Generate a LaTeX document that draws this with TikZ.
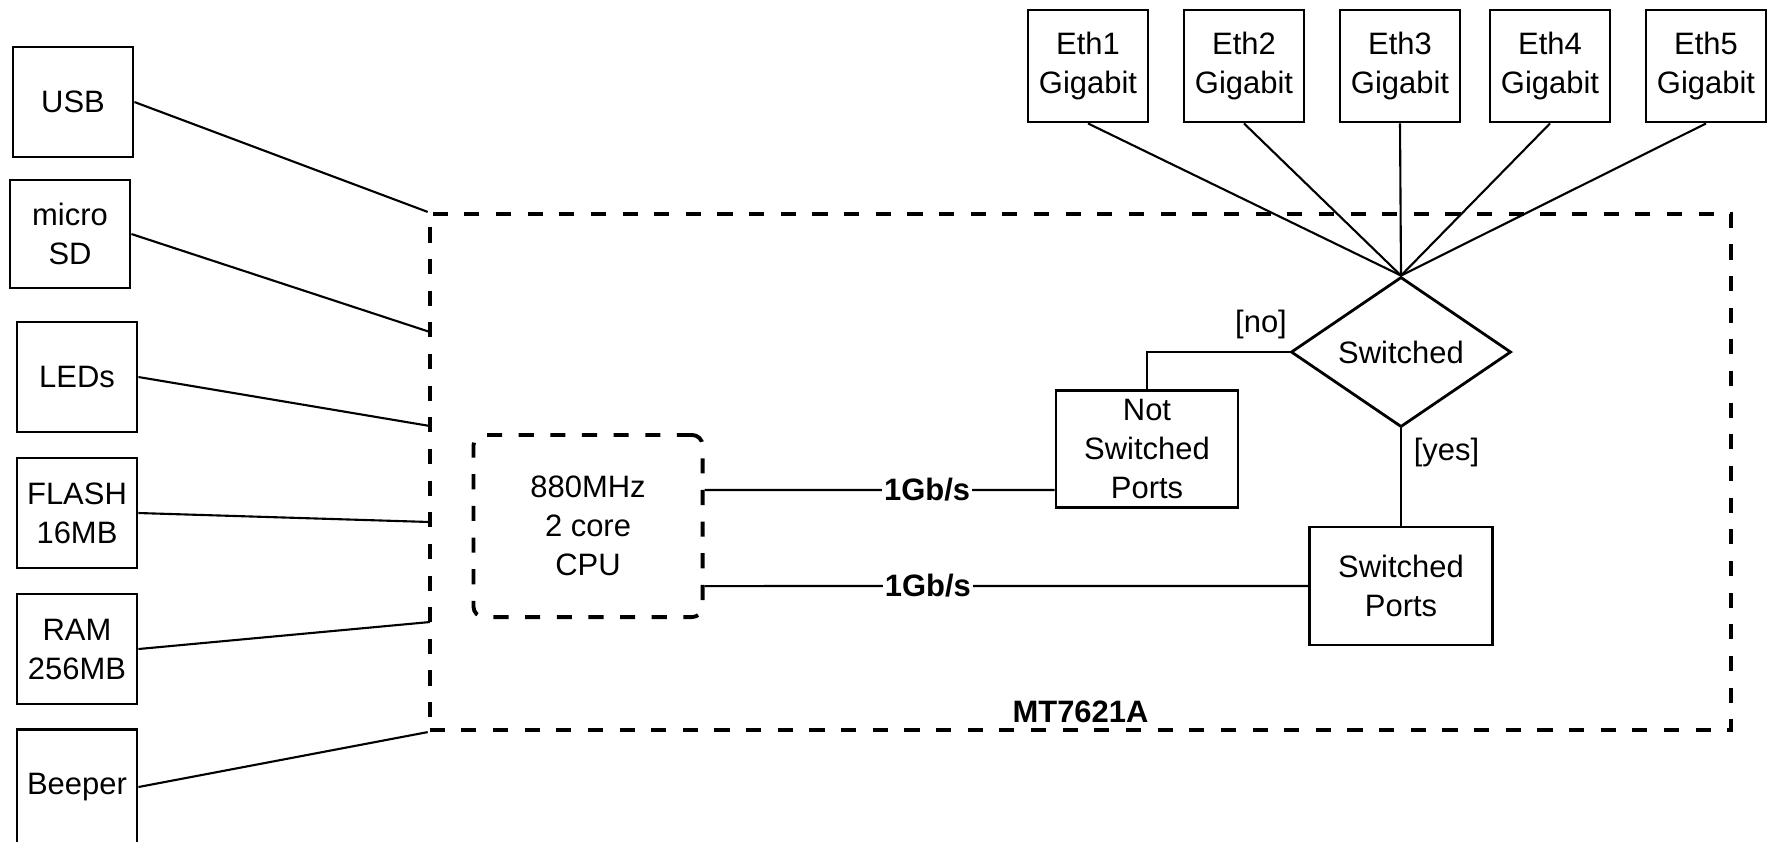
\documentclass[tikz,border=0pt]{standalone}
\usepackage{fontspec}
\setmainfont{Liberation Sans}
\usetikzlibrary{shapes.geometric}
\usetikzlibrary{positioning}

\begin{document}
\begin{tikzpicture}[x=0.01cm,y=-0.01cm,line width=0.6pt,
      font=\fontsize{8.8}{11.1}\selectfont,
      box/.style={draw,line width=0.8pt,align=center,minimum width=1.2cm,minimum height=1.1cm,inner sep=0pt},
      port/.style={box,minimum height=1.12cm},
      dashbox/.style={draw,line width=1.1pt,dash pattern=on 4.3pt off 4.7pt},
      rate/.style={font=\fontsize{8.8}{11.1}\selectfont\bfseries,fill=white,inner sep=0.5pt},
      decision/.style={diamond,draw,line width=0.8pt,aspect=1.5,minimum width=2.2cm,minimum height=1.5cm,inner sep=0pt}]
      \useasboundingbox (0,0) rectangle (1770,841);
      % chip outline
      \node[dashbox,minimum width=13.01cm,minimum height=5.16cm] (mt) at (1080.5,472) {};
      \node[font=\fontsize{8.8}{11.1}\selectfont\bfseries,inner sep=1pt,above=0.5mm of mt.south] (mtname) {MT7621A};
      % peripherals
      \node[box]                       (usb)   at (73,102)  {USB};
      \node[box,minimum height=1.08cm] (sd)    at (70,234)  {micro\\SD};
      \node[box]                       (led)   at (77,377)  {LEDs};
      \node[box]                       (flash) at (77,513)  {FLASH\\16MB};
      \node[box]                       (ram)   at (77,649)  {RAM\\256MB};
      \node[box,minimum height=1.15cm] (beep)  at (77,787)  {Beeper};
      \coordinate (sdpin)    at (430,332);
      \coordinate (ledpin)   at (430,426);
      \coordinate (flashpin) at (430,522);
      \coordinate (rampin)   at (430,622);
      \draw (usb.east) -- (mt.north west);
      \draw (sd.east) -- (sdpin);
      \draw (led.east) -- (ledpin);
      \draw (flash.east) -- (flashpin);
      \draw (ram.east) -- (rampin);
      \draw (beep.east) -- (mt.south west);
      % cpu and ports
      \node[dashbox,rounded corners=3pt,align=center,minimum width=2.29cm,minimum height=1.82cm] (cpu) at (588,526) {880MHz\\2 core\\CPU};
      \node[box,minimum width=1.82cm,minimum height=1.17cm] (ns) at (1147,449) {Not\\Switched\\Ports};
      \node[box,minimum width=1.83cm,minimum height=1.18cm] (sp) at (1401,586) {Switched\\Ports};
      \node[decision] (sw) at (1401,352) {Switched};
      \draw ([yshift=3.6mm]cpu.east) -- node[rate,pos=0.636] {1Gb/s} ([yshift=-4.1mm]ns.west);
      \draw ([yshift=-6mm]cpu.east) -- node[rate,pos=0.37] {1Gb/s} (sp.west);
      \draw (sw.west) -| node[above,pos=0.1] {[no]} (ns.north);
      \draw (sw.south) -- node[right,pos=0.25] {[yes]} (sp.north);
      % ethernet
      \foreach \x [count=\i] in {1088,1244,1400,1550,1706}
        \node[port] (eth\i) at (\x,66) {Eth\i\\Gigabit};
      \foreach \i in {1,...,5}
        \draw (eth\i.south) -- (sw.north);
\end{tikzpicture}
\end{document}
